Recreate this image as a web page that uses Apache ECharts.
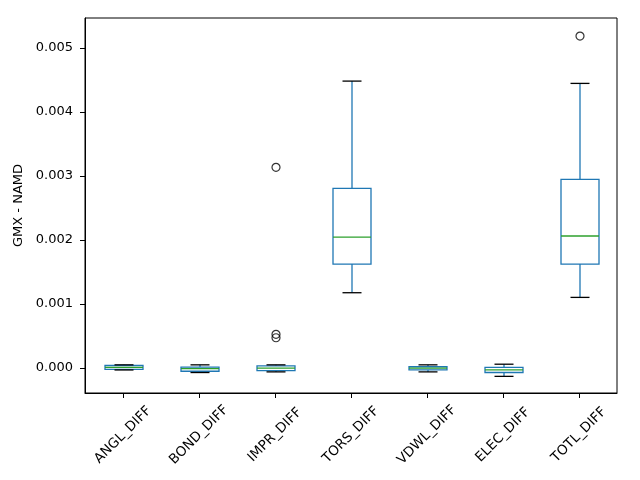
<!DOCTYPE html>
<html>
<head>
<meta charset="utf-8">
<script src="https://cdn.jsdelivr.net/npm/echarts@6/dist/echarts.min.js"></script>
<style>html,body{margin:0;padding:0;background:#fff}#c{width:640px;height:480px}</style>
</head>
<body>
<div id="c"></div>
<script>
var categories = ['ANGL_DIFF','BOND_DIFF','IMPR_DIFF','TORS_DIFF','VDWL_DIFF','ELEC_DIFF','TOTL_DIFF'];
var lowWhisker = [-0.00003, -0.00007, -0.00006, 0.001177, -0.00006, -0.00013, 0.001104];
var q1 = [-0.00002, -0.00005, -0.00004, 0.001625, -0.00003, -0.00007, 0.001625];
var median = [0.00001, -0.00001, 0.0, 0.002047, 0.0, -0.00003, 0.002063];
var q3 = [0.00004, 0.000015, 0.000035, 0.002808, 0.00002, 0.00001, 0.002948];
var highWhisker = [0.00005, 0.00005, 0.00005, 0.004484, 0.00005, 0.00006, 0.004448];
var outliers = [[2, 0.003136], [2, 0.000527], [2, 0.000473], [6, 0.005188]];
var yTicks = [0, 0.001, 0.002, 0.003, 0.004, 0.005];

var boxData = categories.map(function (c, i) {
  return [i, lowWhisker[i], q1[i], median[i], q3[i], highWhisker[i]];
});

var font = 'DejaVu Sans';
var chart = echarts.init(document.getElementById('c'));
chart.setOption({
  animation: false,
  backgroundColor: '#fff',
  grid: { left: 85, right: 23, top: 18, bottom: 87, show: true, borderColor: '#000', borderWidth: 1, backgroundColor: 'transparent' },
  xAxis: {
    type: 'category',
    data: categories,
    boundaryGap: true,
    axisLine: { show: true, onZero: false, lineStyle: { color: '#000', width: 1 } },
    axisTick: { show: true, alignWithLabel: true, length: 5, lineStyle: { color: '#000' } },
    axisLabel: { interval: 0, rotate: 45, align: 'center', verticalAlign: 'middle', margin: 42, color: '#000', fontFamily: font, fontSize: 13.5 },
    splitLine: { show: false }
  },
  yAxis: {
    type: 'value',
    min: -0.00039,
    max: 0.00547,
    name: 'GMX - NAMD',
    nameLocation: 'middle',
    nameGap: 58,
    nameTextStyle: { color: '#000', fontFamily: font, fontSize: 13 },
    axisLine: { show: true, lineStyle: { color: '#000', width: 1 } },
    axisTick: { show: true, length: 5, lineStyle: { color: '#000' }, customValues: yTicks },
    axisLabel: { color: '#000', fontFamily: font, fontSize: 13, margin: 12, customValues: yTicks, formatter: function (v) { return v.toFixed(3); } },
    splitLine: { show: false }
  },
  series: [
    {
      type: 'custom',
      data: boxData,
      encode: { x: 0, y: [1, 2, 3, 4, 5] },
      renderItem: function (params, api) {
        var idx = api.value(0);
        var band = api.size([1, 0])[0];
        var cx = api.coord([idx, 0])[0] + 1;
        var yLo = api.coord([idx, api.value(1)])[1];
        var yQ1 = api.coord([idx, api.value(2)])[1];
        var yMed = api.coord([idx, api.value(3)])[1];
        var yQ3 = api.coord([idx, api.value(4)])[1];
        var yHi = api.coord([idx, api.value(5)])[1];
        var bw = band * 0.25;
        var cw = band * 0.125;
        var blue = '#1f77b4';
        return {
          type: 'group',
          children: [
            { type: 'line', shape: { x1: cx, y1: yQ1, x2: cx, y2: yLo }, style: { stroke: blue, lineWidth: 1.3 } },
            { type: 'line', shape: { x1: cx, y1: yQ3, x2: cx, y2: yHi }, style: { stroke: blue, lineWidth: 1.3 } },
            { type: 'rect', shape: { x: cx - bw, y: yQ3, width: bw * 2, height: yQ1 - yQ3 }, style: { fill: 'none', stroke: blue, lineWidth: 1.3 } },
            { type: 'line', shape: { x1: cx - bw, y1: yMed, x2: cx + bw, y2: yMed }, style: { stroke: '#2ca02c', lineWidth: 1.3 } },
            { type: 'line', shape: { x1: cx - cw, y1: yLo, x2: cx + cw, y2: yLo }, style: { stroke: '#000', lineWidth: 1.3 } },
            { type: 'line', shape: { x1: cx - cw, y1: yHi, x2: cx + cw, y2: yHi }, style: { stroke: '#000', lineWidth: 1.3 } }
          ]
        };
      }
    },
    {
      type: 'scatter',
      data: outliers,
      symbol: 'circle',
      symbolSize: 8,
      symbolOffset: [1, 0],
      itemStyle: { color: 'rgba(0,0,0,0)', borderColor: '#000', borderWidth: 1.2 }
    }
  ]
});
</script>
</body>
</html>
